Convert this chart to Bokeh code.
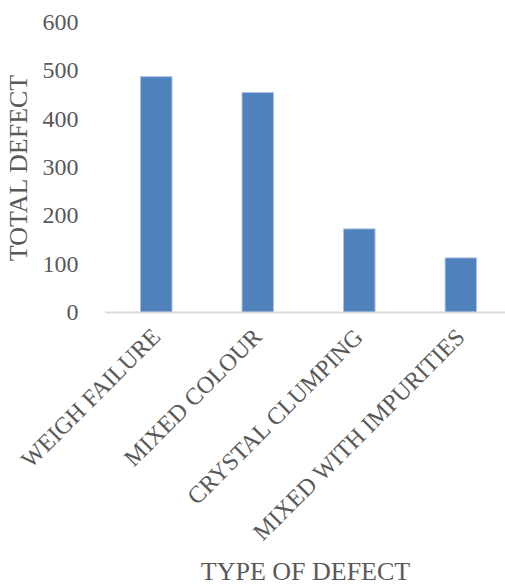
from bokeh.plotting import figure
from bokeh.models import Range1d, FixedTicker, ColumnDataSource
from bokeh.embed import file_html
from bokeh.resources import INLINE
import math

categories = ["WEIGH FAILURE", "MIXED COLOUR", "CRYSTAL CLUMPING", "MIXED WITH IMPURITIES"]
totals = [488, 455, 173, 113]
y_ticks = [0, 100, 200, 300, 400, 500, 600]

xs = [i + 0.5 for i in range(len(categories))]
src = ColumnDataSource(dict(x=xs, top=totals))

p = figure(width=505, height=588, output_backend="svg", toolbar_location=None,
           x_range=Range1d(0, 3.94), y_range=Range1d(0, 600),
           min_border_left=102, min_border_right=0, min_border_top=22, min_border_bottom=276)
p.outline_line_color = None
p.background_fill_color = "white"
p.border_fill_color = "white"

p.vbar(x="x", top="top", width=0.31, bottom=0, source=src,
       fill_color="#4f81bd", line_color="#a7c0e0", line_width=1)

font = "Liberation Serif"
grey = "#595959"

p.xgrid.visible = False
p.ygrid.visible = False

xa = p.xaxis[0]
xa.ticker = FixedTicker(ticks=xs)
xa.major_label_overrides = {x: c for x, c in zip(xs, categories)}
xa.major_label_orientation = math.pi / 4
xa.major_label_text_font = font
xa.major_label_text_font_size = "24px"
xa.major_label_text_color = grey
xa.major_tick_line_color = None
xa.minor_tick_line_color = None
xa.axis_line_color = "#d9d9d9"
xa.axis_line_width = 2
xa.axis_label = "TYPE OF DEFECT"
xa.axis_label_text_font = font
xa.axis_label_text_font_size = "26px"
xa.axis_label_text_font_style = "normal"
xa.axis_label_text_color = grey
xa.major_label_standoff = 14
xa.axis_label_standoff = -1

ya = p.yaxis[0]
ya.ticker = FixedTicker(ticks=y_ticks)
ya.major_label_text_font = font
ya.major_label_text_font_size = "24px"
ya.major_label_text_color = grey
ya.major_tick_line_color = None
ya.minor_tick_line_color = None
ya.axis_line_color = None
ya.axis_label = "TOTAL DEFECT"
ya.axis_label_text_font = font
ya.axis_label_text_font_size = "26px"
ya.axis_label_text_font_style = "normal"
ya.axis_label_text_color = grey
ya.major_label_standoff = 21
ya.axis_label_standoff = 7

open("out.html", "w").write(file_html(p, INLINE))
